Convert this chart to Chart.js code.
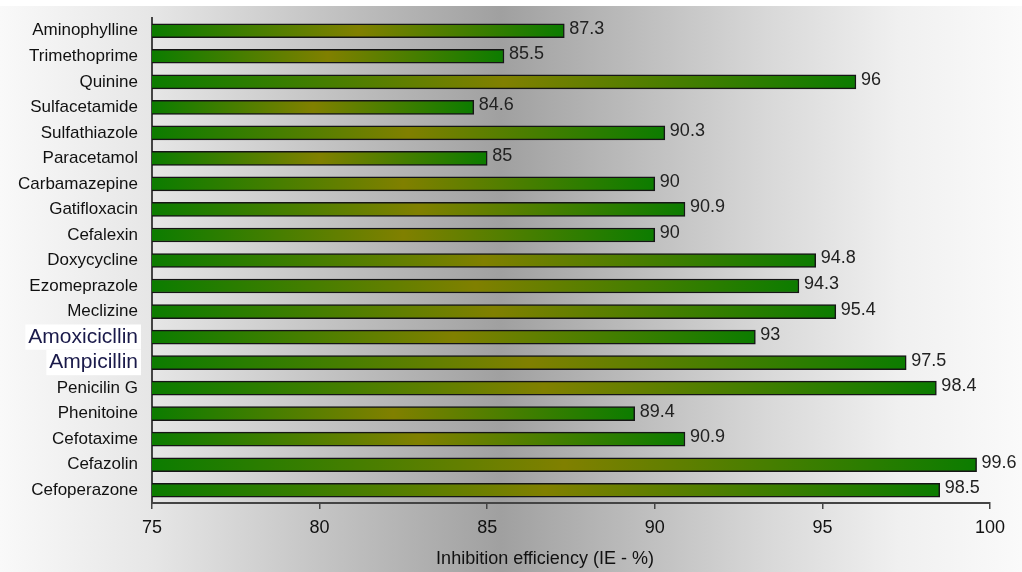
<!DOCTYPE html>
<html>
<head>
<meta charset="utf-8">
<script src="https://cdn.jsdelivr.net/npm/chart.js@4.4.1/dist/chart.umd.min.js"></script>
<style>
  html, body { margin: 0; padding: 0; background: #fff; }
  #wrap { width: 1022px; height: 572px; }
</style>
</head>
<body>
<div id="wrap"><canvas id="ieChart" width="1022" height="572"></canvas></div>
<script>
// drug names, top to bottom
const drugs = [
    'Aminophylline', 'Trimethoprime', 'Quinine', 'Sulfacetamide', 'Sulfathiazole',
    'Paracetamol', 'Carbamazepine', 'Gatifloxacin', 'Cefalexin', 'Doxycycline',
    'Ezomeprazole', 'Meclizine', 'Amoxicicllin', 'Ampicillin', 'Penicilin G',
    'Phenitoine', 'Cefotaxime', 'Cefazolin', 'Cefoperazone'
];
// inhibition efficiency, %
const efficiency = [
    87.3, 85.5, 96, 84.6, 90.3,
    85, 90, 90.9, 90, 94.8,
    94.3, 95.4, 93, 97.5, 98.4,
    89.4, 90.9, 99.6, 98.5
];
const xTicks = [75, 80, 85, 90, 95, 100];
const xTitle = 'Inhibition efficiency (IE - %)';
// labels typed bigger in the sheet
const bigLabels = ['Amoxicicllin', 'Ampicillin'];

const GREEN = 'rgb(12,124,0)';
const OLIVE = 'rgb(128,128,0)';
const FONT = "'Liberation Sans', Arial, sans-serif";

// grey gradient behind everything
const backdrop = {
    id: 'backdrop',
    beforeDraw(chart) {
        const { ctx, width, height } = chart;
        ctx.save();
        ctx.fillStyle = '#fff';
        ctx.fillRect(0, 0, width, height);
        const g = ctx.createLinearGradient(0, 0, width, 0);
        g.addColorStop(0, '#f9f9f9');
        g.addColorStop(0.15, '#e6e6e6');
        g.addColorStop(0.49, '#a0a0a0');
        g.addColorStop(0.75, '#d8d8d8');
        g.addColorStop(0.88, '#f0f0f0');
        g.addColorStop(1, '#fafafa');
        ctx.fillStyle = g;
        ctx.fillRect(0, 6, width, height - 6);
        ctx.restore();
    }
};

// value printed past the end of each bar, plus the axis caption
const barValues = {
    id: 'barValues',
    afterDraw(chart) {
        const { ctx } = chart;
        const meta = chart.getDatasetMeta(0);
        ctx.save();
        ctx.font = '18px ' + FONT;
        ctx.fillStyle = '#222';
        ctx.textAlign = 'left';
        ctx.textBaseline = 'middle';
        meta.data.forEach((bar, i) => {
            ctx.fillText(String(efficiency[i]), bar.x + 5, bar.y - 2);
        });
        // caption under the value axis, sits a little left of centre
        ctx.fillStyle = '#111';
        ctx.textAlign = 'center';
        ctx.fillText(xTitle, 545, 559);
        ctx.restore();
    }
};

// green -> olive -> green along each bar
function barFill(context) {
    const chart = context.chart;
    if (!chart.chartArea || context.type !== 'data') return GREEN;
    const xs = chart.scales.x;
    const x0 = xs.getPixelForValue(xs.min);
    const x1 = xs.getPixelForValue(context.raw);
    if (!isFinite(x0) || !isFinite(x1) || x1 - x0 < 1) return GREEN;
    const g = chart.ctx.createLinearGradient(x0, 0, x1, 0);
    g.addColorStop(0, GREEN);
    g.addColorStop(0.5, OLIVE);
    g.addColorStop(1, GREEN);
    return g;
}

new Chart(document.getElementById('ieChart'), {
    type: 'bar',
    data: {
        labels: drugs,
        datasets: [{
            data: efficiency,
            backgroundColor: barFill,
            borderColor: '#151515',
            borderWidth: 1.5,
            borderSkipped: false,
            barThickness: 14
        }]
    },
    options: {
        indexAxis: 'y',
        responsive: false,
        animation: false,
        layout: { padding: { left: 0, right: 32, top: 18, bottom: 0 } },
        plugins: {
            legend: { display: false },
            tooltip: { enabled: false }
        },
        scales: {
            x: {
                min: 75,
                max: 100,
                afterBuildTicks(scale) {
                    scale.ticks = xTicks.map(v => ({ value: v }));
                },
                afterFit(scale) { scale.height = 69; },
                grid: {
                    drawOnChartArea: false,
                    drawTicks: true,
                    tickLength: 6,
                    color: '#444',
                    lineWidth: 1.5
                },
                border: { display: true, color: '#444', width: 2 },
                ticks: {
                    color: '#111',
                    padding: 8,
                    font: { family: FONT, size: 18 }
                }
            },
            y: {
                afterFit(scale) {
                    scale.width = 152;
                    scale.paddingTop = 0;
                    scale.paddingBottom = 0;
                },
                grid: { display: false, drawTicks: false },
                border: { display: true, color: '#444', width: 2 },
                ticks: {
                    autoSkip: false,
                    padding: 14,
                    color(c) {
                        return bigLabels.includes(drugs[c.index]) ? '#1a1a4a' : '#111';
                    },
                    font(c) {
                        const big = bigLabels.includes(drugs[c.index]);
                        return { family: FONT, size: big ? 21 : 17 };
                    },
                    showLabelBackdrop(c) {
                        return bigLabels.includes(drugs[c.index]);
                    },
                    backdropColor: '#fff',
                    backdropPadding: { top: 0, bottom: 0, left: 3, right: 3 }
                }
            }
        }
    },
    plugins: [backdrop, barValues]
});
</script>
</body>
</html>
